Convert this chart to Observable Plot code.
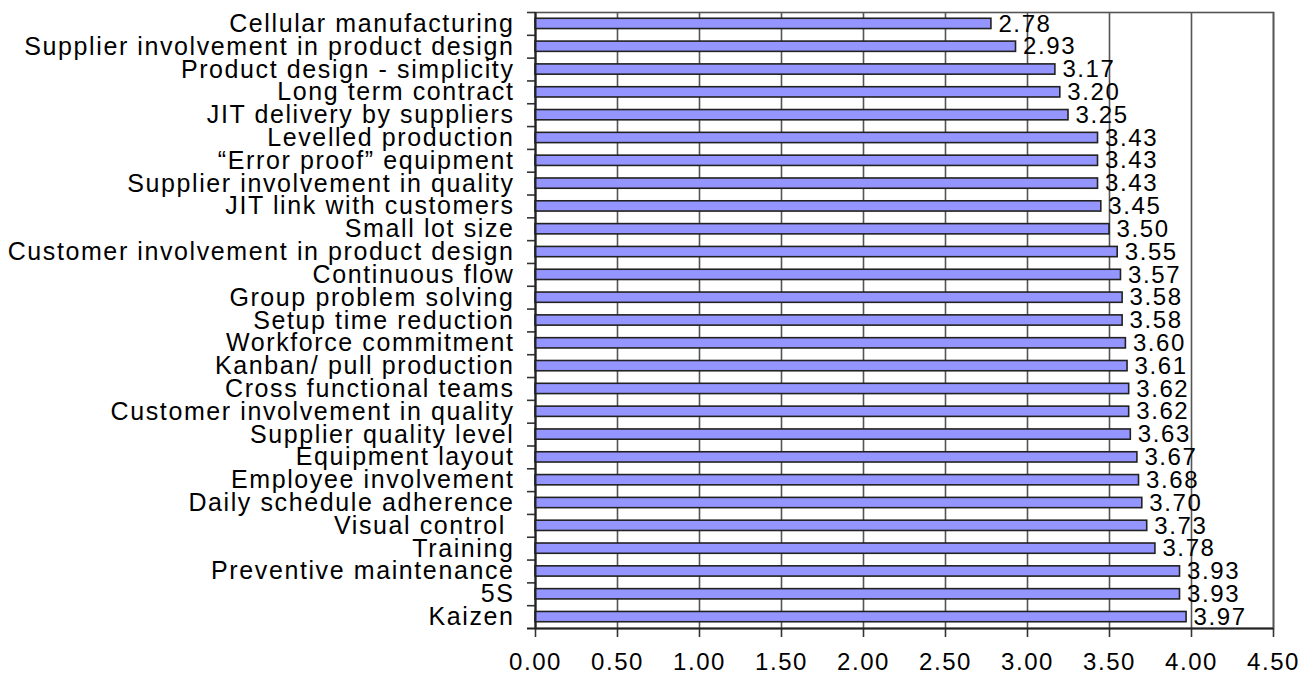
<!DOCTYPE html>
<html><head><meta charset="utf-8">
<script src="https://cdn.jsdelivr.net/npm/d3@7"></script>
<script src="https://cdn.jsdelivr.net/npm/@observablehq/plot@0.6"></script>
<style>
html,body{margin:0;padding:0;background:#fff;}
svg{font-family:"Liberation Sans",Arial,sans-serif;}
svg text{letter-spacing:1.6px;}
</style></head>
<body><div id="chart"></div>
<script>
const practices = [
  "Cellular manufacturing","Supplier involvement in product design","Product design - simplicity",
  "Long term contract","JIT delivery by suppliers","Levelled production","\u201cError proof\u201d equipment",
  "Supplier involvement in quality","JIT link with customers","Small lot size",
  "Customer involvement in product design","Continuous flow","Group problem solving",
  "Setup time reduction","Workforce commitment","Kanban/ pull production","Cross functional teams",
  "Customer involvement in quality","Supplier quality level","Equipment layout","Employee involvement",
  "Daily schedule adherence","Visual control ","Training","Preventive maintenance","5S","Kaizen"
];
const scores = [2.78,2.93,3.17,3.20,3.25,3.43,3.43,3.43,3.45,3.50,3.55,3.57,3.58,3.58,3.60,3.61,3.62,3.62,3.63,3.67,3.68,3.70,3.73,3.78,3.93,3.93,3.97];
const xTicks = [0,0.5,1,1.5,2,2.5,3,3.5,4,4.5];

const data = practices.map((p,i)=>({practice:p, score:scores[i]}));
const W = 1315, H = 675, mTop = 12, mBottom = 47;
const step = (H - mTop - mBottom) / practices.length;

const chart = Plot.plot({
  width: W, height: H,
  marginLeft: 535, marginRight: 42, marginTop: mTop, marginBottom: mBottom,
  style: {fontFamily: '"Liberation Sans", Arial, sans-serif', color: "#000", background: "#fff"},
  x: {domain: [0, 4.5], ticks: xTicks, tickFormat: d3.format(".2f"), round: false},
  y: {domain: practices, paddingInner: 0.55, paddingOuter: 0.275, align: 0.5, round: false},
  marks: [
    Plot.ruleX(xTicks, {stroke: "#555", strokeWidth: 1.6}),
    Plot.frame({stroke: "#555", strokeWidth: 1.6}),
    Plot.barX(data, {x: "score", y: "practice", fill: "#9595ff", stroke: "#222", strokeWidth: 1.6}),
    Plot.text(data, {x: "score", y: "practice", text: d => d.score.toFixed(2), textAnchor: "start", dx: 7, dy: 0, fontSize: 24, fill: "#000"}),
    Plot.ruleY(practices, {y: d => d, x1: 0, x2: 0, insetLeft: -8, dy: -step/2, stroke: "#333", strokeWidth: 1.6}),
    Plot.axisX({ticks: xTicks, tickFormat: d3.format(".2f"), tickSize: 9, tickPadding: 15, fontSize: 24, stroke: "#333", strokeWidth: 1.6, label: null}),
    Plot.axisY({tickSize: 0, tickPadding: 21, fontSize: 25, label: null}),
    Plot.ruleY(practices.slice(-1), {y: d => d, dy: step/2, stroke: "#222", strokeWidth: 2, insetLeft: -8}),
    Plot.ruleX([0], {stroke: "#222", strokeWidth: 2})
  ]
});
document.getElementById("chart").appendChild(chart);
</script></body></html>
